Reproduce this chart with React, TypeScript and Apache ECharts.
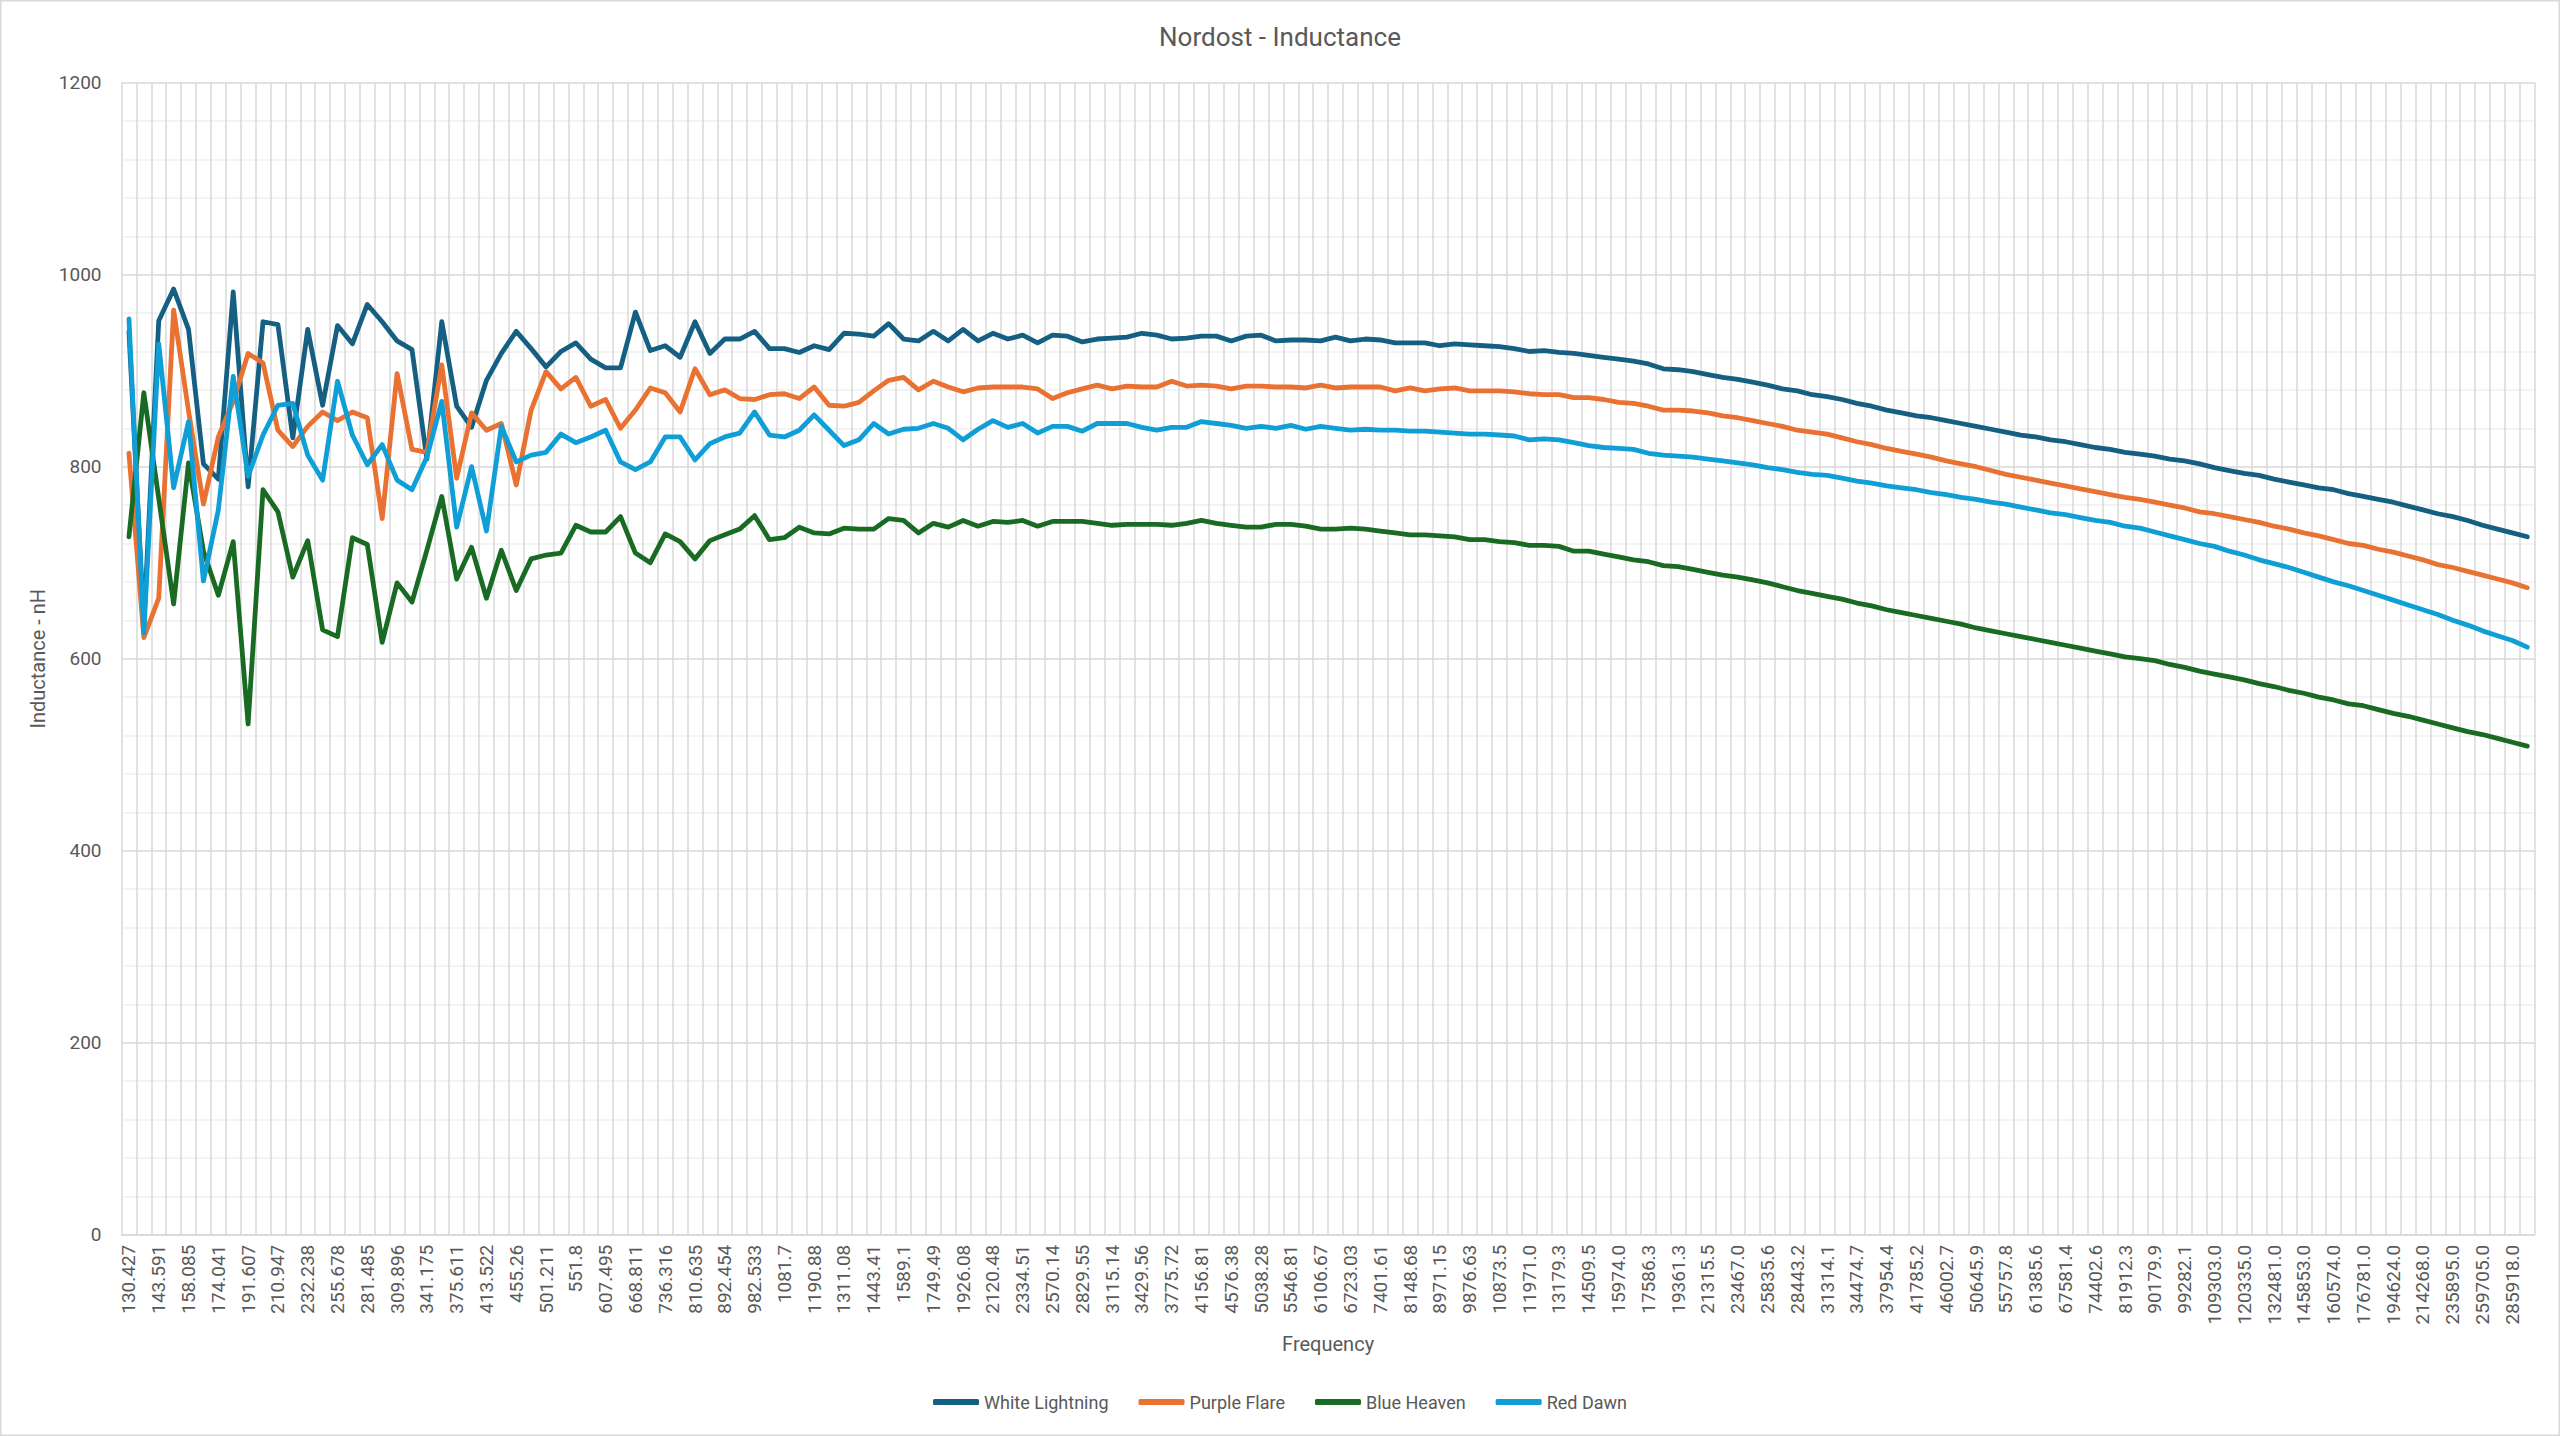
import React, { useEffect, useRef } from "react";
import * as echarts from "echarts";

// Visible (labelled) frequency categories — every second category
const labelledFreqs = [
  "130.427", "143.591", "158.085", "174.041", "191.607", "210.947", "232.238", "255.678", "281.485", "309.896",
  "341.175", "375.611", "413.522", "455.26", "501.211", "551.8", "607.495", "668.811", "736.316", "810.635",
  "892.454", "982.533", "1081.7", "1190.88", "1311.08", "1443.41", "1589.1", "1749.49", "1926.08", "2120.48",
  "2334.51", "2570.14", "2829.55", "3115.14", "3429.56", "3775.72", "4156.81", "4576.38", "5038.28", "5546.81",
  "6106.67", "6723.03", "7401.61", "8148.68", "8971.15", "9876.63", "10873.5", "11971.0", "13179.3", "14509.5",
  "15974.0", "17586.3", "19361.3", "21315.5", "23467.0", "25835.6", "28443.2", "31314.1", "34474.7", "37954.4",
  "41785.2", "46002.7", "50645.9", "55757.8", "61385.6", "67581.4", "74402.6", "81912.3", "90179.9", "99282.1",
  "109303.0", "120335.0", "132481.0", "145853.0", "160574.0", "176781.0", "194624.0", "214268.0", "235895.0", "259705.0",
  "285918.0",
];

// In-between frequency categories (not labelled on the axis)
const betweenFreqs = [
  "136.851", "150.663", "165.871", "182.613", "201.044", "221.336", "243.676", "268.27", "295.348", "325.158",
  "357.977", "394.11", "433.888", "477.68", "525.896", "578.98", "637.415", "701.75", "772.58", "850.56",
  "936.41", "1030.93", "1134.97", "1249.53", "1375.65", "1514.5", "1667.36", "1835.65", "2020.94", "2224.92",
  "2449.49", "2696.72", "2968.91", "3268.56", "3598.47", "3961.68", "4361.54", "4801.77", "5286.42", "5820.0",
  "6407.43", "7054.15", "7766.15", "8550.01", "9413.01", "10363.1", "11409.0", "12560.6", "13828.4", "15224.1",
  "16760.8", "18452.4", "20314.9", "22365.3", "24622.8", "27108.0", "29844.1", "32856.3", "36172.6", "39823.7",
  "43843.2", "48268.4", "53140.3", "58504.0", "64409.0", "70909.9", "78067.1", "85946.6", "94621.4", "104172.0",
  "114686.0", "126262.0", "139006.0", "153037.0", "168483.0", "185488.0", "204210.0", "224821.0", "247513.0", "272496.0",
  "300000.0",
];

const whiteLightning = [
  941, 636, 952, 985, 943, 803, 787, 982, 779, 951,
  948, 830, 943, 864, 947, 928, 969, 951, 931, 922,
  808, 951, 863, 841, 890, 918, 941, 923, 904, 920,
  929, 912, 903, 903, 961, 921, 926, 914, 951, 918,
  933, 933, 941, 923, 923, 919, 926, 922, 939, 938,
  936, 949, 933, 931, 941, 931, 943, 931, 939, 933,
  937, 929, 937, 936, 930, 933, 934, 935, 939, 937,
  933, 934, 936, 936, 931, 936, 937, 931, 932, 932,
  931, 935, 931, 933, 932, 929, 929, 929, 926, 928,
  927, 926, 925, 923, 920, 921, 919, 918, 916, 914,
  912, 910, 907, 902, 901, 899, 896, 893, 891, 888,
  885, 881, 879, 875, 873, 870, 866, 863, 859, 856,
  853, 851, 848, 845, 842, 839, 836, 833, 831, 828,
  826, 823, 820, 818, 815, 813, 811, 808, 806, 803,
  799, 796, 793, 791, 787, 784, 781, 778, 776, 772,
  769, 766, 763, 759, 755, 751, 748, 744, 739, 735,
  731, 727,
];

const purpleFlare = [
  814, 622, 663, 963, 858, 761, 831, 868, 918, 908,
  838, 821, 842, 857, 848, 857, 851, 746, 897, 818,
  815, 906, 788, 856, 838, 845, 781, 859, 899, 881,
  893, 863, 870, 840, 859, 882, 877, 857, 902, 875,
  880, 871, 870, 875, 876, 871, 883, 864, 863, 867,
  879, 890, 893, 880, 889, 883, 878, 882, 883, 883,
  883, 881, 871, 877, 881, 885, 881, 884, 883, 883,
  889, 884, 885, 884, 881, 884, 884, 883, 883, 882,
  885, 882, 883, 883, 883, 879, 882, 879, 881, 882,
  879, 879, 879, 878, 876, 875, 875, 872, 872, 870,
  867, 866, 863, 859, 859, 858, 856, 853, 851, 848,
  845, 842, 838, 836, 834, 830, 826, 823, 819, 816,
  813, 810, 806, 803, 800, 796, 792, 789, 786, 783,
  780, 777, 774, 771, 768, 766, 763, 760, 757, 753,
  751, 748, 745, 742, 738, 735, 731, 728, 724, 720,
  718, 714, 711, 707, 703, 698, 695, 691, 687, 683,
  679, 674,
];

const blueHeaven = [
  727, 877, 767, 657, 804, 712, 666, 722, 532, 776,
  753, 685, 723, 630, 623, 726, 719, 617, 679, 659,
  713, 769, 683, 716, 663, 713, 671, 704, 708, 710,
  739, 732, 732, 748, 710, 700, 730, 722, 704, 723,
  729, 735, 749, 724, 726, 737, 731, 730, 736, 735,
  735, 746, 744, 731, 741, 737, 744, 738, 743, 742,
  744, 738, 743, 743, 743, 741, 739, 740, 740, 740,
  739, 741, 744, 741, 739, 737, 737, 740, 740, 738,
  735, 735, 736, 735, 733, 731, 729, 729, 728, 727,
  724, 724, 722, 721, 718, 718, 717, 712, 712, 709,
  706, 703, 701, 697, 696, 693, 690, 687, 685, 682,
  679, 675, 671, 668, 665, 662, 658, 655, 651, 648,
  645, 642, 639, 636, 632, 629, 626, 623, 620, 617,
  614, 611, 608, 605, 602, 600, 598, 594, 591, 587,
  584, 581, 578, 574, 571, 567, 564, 560, 557, 553,
  551, 547, 543, 540, 536, 532, 528, 524, 521, 517,
  513, 509,
];

const redDawn = [
  954, 627, 928, 778, 847, 681, 755, 894, 790, 833,
  864, 866, 812, 786, 889, 833, 802, 823, 786, 776,
  810, 868, 737, 800, 733, 842, 805, 812, 815, 834,
  825, 831, 838, 805, 797, 805, 831, 831, 807, 824,
  831, 835, 857, 833, 831, 838, 854, 838, 822, 828,
  845, 834, 839, 840, 845, 840, 828, 839, 848, 841,
  845, 835, 842, 842, 837, 845, 845, 845, 841, 838,
  841, 841, 847, 845, 843, 840, 842, 840, 843, 839,
  842, 840, 838, 839, 838, 838, 837, 837, 836, 835,
  834, 834, 833, 832, 828, 829, 828, 825, 822, 820,
  819, 818, 814, 812, 811, 810, 808, 806, 804, 802,
  799, 797, 794, 792, 791, 788, 785, 783, 780, 778,
  776, 773, 771, 768, 766, 763, 761, 758, 755, 752,
  750, 747, 744, 742, 738, 736, 732, 728, 724, 720,
  717, 712, 708, 703, 699, 695, 690, 685, 680, 676,
  671, 666, 661, 656, 651, 646, 640, 635, 629, 624,
  619, 612,
];

const seriesNames = ["White Lightning", "Purple Flare", "Blue Heaven", "Red Dawn"];
const seriesColors = ["#156082", "#E97132", "#196B24", "#0F9ED5"];
const seriesValues = [whiteLightning, purpleFlare, blueHeaven, redDawn];

const yTicks = { min: 0, max: 1200, interval: 200 };

const categories: string[] = [];
labelledFreqs.forEach((f, i) => {
  categories.push(f);
  if (betweenFreqs[i] !== undefined) categories.push(betweenFreqs[i]);
});

const TEXT = "#595959";
const FONT = "Roboto, 'Liberation Sans', sans-serif";

export default function App() {
  const ref = useRef<HTMLDivElement>(null);

  useEffect(() => {
    if (!ref.current) return;
    const chart = echarts.init(ref.current, undefined, { renderer: "svg" });
    chart.setOption({
      animation: false,
      backgroundColor: "#ffffff",
      textStyle: { fontFamily: FONT },
      title: {
        text: "Nordost - Inductance",
        left: "center",
        top: 19,
        textStyle: { fontSize: 26, fontWeight: "normal", color: TEXT, fontFamily: FONT },
      },
      legend: {
        data: seriesNames,
        left: "center",
        top: 1388,
        icon: "roundRect",
        itemWidth: 46,
        itemHeight: 6,
        itemGap: 30,
        textStyle: { fontSize: 18, color: TEXT, fontFamily: FONT },
      },
      grid: { left: 121.5, right: 25.3, top: 82.7, bottom: 201.3 },
      xAxis: {
        type: "category",
        data: categories,
        boundaryGap: true,
        name: "Frequency",
        nameLocation: "middle",
        nameGap: 99,
        nameTextStyle: { fontSize: 20, color: TEXT, fontFamily: FONT },
        axisLine: { show: true, lineStyle: { color: "#D9D9D9", width: 1.5 } },
        axisTick: { show: false },
        axisLabel: {
          interval: 1,
          rotate: 90,
          fontSize: 19,
          color: TEXT,
          margin: 10,
          fontFamily: FONT,
        },
        splitLine: { show: true, interval: 0, lineStyle: { color: "#D9D9D9", width: 1.5 } },
      },
      yAxis: {
        type: "value",
        min: yTicks.min,
        max: yTicks.max,
        interval: yTicks.interval,
        name: "Inductance - nH",
        nameLocation: "middle",
        nameRotate: 90,
        nameGap: 61,
        nameTextStyle: { fontSize: 20, color: TEXT, fontFamily: FONT },
        axisLine: { show: false },
        axisTick: { show: false },
        axisLabel: {
          fontSize: 19,
          color: TEXT,
          margin: 20,
          fontFamily: FONT,
          formatter: (v: number) => String(v),
        },
        splitLine: { show: true, lineStyle: { color: "#D9D9D9", width: 1.5 } },
        minorTick: { show: false, splitNumber: 5 },
        minorSplitLine: { show: true, lineStyle: { color: "#F0F0F0", width: 1.5 } },
      },
      series: seriesNames.map((name, i) => ({
        type: "line",
        name,
        data: seriesValues[i],
        showSymbol: false,
        symbol: "none",
        color: seriesColors[i],
        lineStyle: { width: 4.8, color: seriesColors[i], cap: "round", join: "round" },
        itemStyle: { color: seriesColors[i] },
        z: 2 + i,
      })),
      graphic: [
        {
          type: "rect",
          silent: true,
          shape: { x: 0.75, y: 0.75, width: 2558.5, height: 1434.5 },
          style: { fill: "none", stroke: "#D9D9D9", lineWidth: 1.5 },
        },
      ],
    });
    return () => chart.dispose();
  }, []);

  return (
    <div
      ref={ref}
      style={{ position: "absolute", left: 0, top: 0, width: 2560, height: 1436, background: "#fff" }}
    />
  );
}
